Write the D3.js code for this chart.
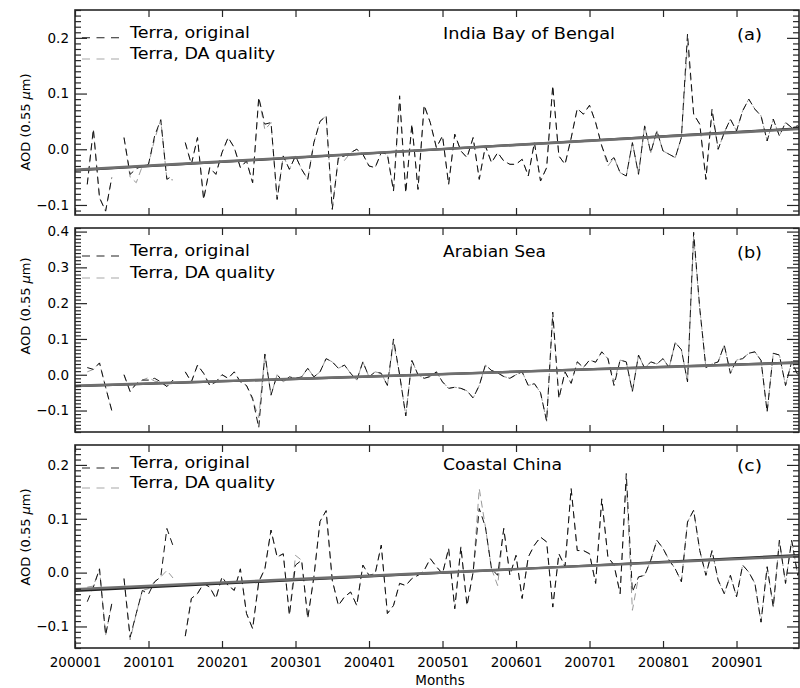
<!DOCTYPE html>
<html>
<head>
<meta charset="utf-8">
<script src="https://cdn.jsdelivr.net/npm/d3@7"></script>
<style>
  body { margin: 0; background: #fff; }
  svg { display: block; }
  text { font-family: "DejaVu Sans", "Liberation Sans", sans-serif; fill: #000; }
</style>
</head>
<body>
<svg id="chart" width="800" height="688"></svg>
<script>
// ---- Monthly AOD anomalies (0.55 um), Terra MODIS, Jan 2000 - Dec 2009 ----
const monthCount = 120;
const yearTickMonths = [0, 12, 24, 36, 48, 60, 72, 84, 96, 108];
const yearTickLabels = ["200001", "200101", "200201", "200301", "200401",
                        "200501", "200601", "200701", "200801", "200901"];
const panelTitles = ["India Bay of Bengal", "Arabian Sea", "Coastal China"];
const panelLetters = ["(a)", "(b)", "(c)"];
const legendLabels = ["Terra, original", "Terra, DA quality"];

// (a) India Bay of Bengal
const bengalOriginal = [
  null, null, -0.063, 0.036, -0.087, -0.111, -0.051, null, 0.021, -0.045,
  -0.035, -0.030, -0.027, 0.024, 0.053, -0.054, -0.047, null, 0.012, -0.027,
  0.021, -0.090, -0.033, -0.045, -0.006, 0.021, 0.003, -0.033, -0.021, -0.060,
  0.093, 0.045, 0.048, -0.090, -0.012, -0.036, -0.012, -0.036, -0.054, 0.012,
  0.050, 0.060, -0.108, -0.015, -0.012, -0.006, 0.000, -0.009, -0.030, -0.033,
  -0.006, -0.009, -0.075, 0.096, -0.078, 0.045, -0.072, 0.079, 0.048, 0.003,
  0.024, -0.063, 0.027, -0.003, -0.015, 0.021, -0.054, 0.006, -0.024, -0.006,
  -0.021, -0.027, -0.027, -0.018, -0.048, 0.012, -0.057, -0.033, 0.114, -0.012,
  -0.027, 0.020, 0.073, 0.063, 0.079, 0.048, 0.006, -0.024, -0.015, -0.042,
  -0.048, 0.012, -0.045, 0.042, -0.006, 0.033, -0.003, -0.009, -0.015, 0.021,
  0.207, 0.063, 0.045, -0.054, 0.072, 0.000, 0.030, 0.054, 0.033, 0.069,
  0.090, 0.072, 0.060, 0.015, 0.054, 0.024, 0.048, 0.039, 0.042, 0.030
];
const bengalDA = [
  null, null, -0.063, 0.036, -0.087, -0.111, -0.051, null, 0.021, -0.050,
  -0.060, -0.030, -0.027, 0.018, 0.053, -0.054, -0.055, null, 0.012, -0.027,
  0.021, -0.090, -0.033, -0.045, -0.006, 0.021, 0.003, -0.033, -0.021, -0.060,
  0.093, 0.035, 0.048, -0.090, -0.012, -0.036, -0.012, -0.036, -0.054, 0.012,
  0.050, 0.060, -0.108, -0.015, -0.020, -0.006, 0.000, -0.009, -0.030, -0.033,
  -0.006, -0.009, -0.075, 0.085, -0.078, 0.045, -0.072, 0.079, 0.048, 0.003,
  0.024, -0.063, 0.027, -0.003, -0.015, 0.021, -0.054, 0.006, -0.024, -0.006,
  -0.021, -0.027, -0.027, -0.018, -0.048, 0.012, -0.057, -0.033, 0.114, -0.012,
  -0.027, 0.020, 0.073, 0.063, 0.079, 0.048, 0.006, -0.030, -0.015, -0.042,
  -0.048, 0.012, -0.045, 0.042, -0.006, 0.033, -0.003, -0.009, -0.015, 0.021,
  0.190, 0.063, 0.045, -0.054, 0.065, 0.000, 0.030, 0.054, 0.033, 0.069,
  0.090, 0.072, 0.060, 0.015, 0.054, 0.024, 0.048, 0.039, 0.042, 0.030
];
const bengalTrendOriginal = [-0.038, 0.038];   // values at month 0 and month 119
const bengalTrendDA = [-0.037, 0.037];

// (b) Arabian Sea
const arabianOriginal = [
  null, null, 0.020, 0.015, 0.033, -0.035, -0.100, null, 0.000, -0.047,
  -0.025, -0.015, -0.015, -0.010, -0.020, -0.033, -0.015, null, 0.008, -0.020,
  0.027, 0.004, -0.030, -0.020, 0.000, -0.010, 0.008, -0.020, -0.030, -0.066,
  -0.148, 0.058, -0.057, 0.000, -0.020, -0.006, -0.010, -0.006, 0.018, -0.006,
  0.008, 0.045, 0.036, 0.018, 0.027, 0.004, -0.015, 0.036, -0.006, 0.008,
  0.004, -0.030, 0.100, 0.000, -0.115, 0.040, 0.000, -0.010, -0.005, 0.008,
  -0.020, -0.038, -0.035, -0.038, -0.045, -0.065, -0.030, 0.027, 0.012, 0.005,
  -0.005, -0.010, 0.000, 0.008, -0.030, -0.025, -0.050, -0.130, 0.175, -0.066,
  0.008, -0.024, 0.036, 0.020, 0.041, 0.035, 0.064, 0.045, -0.030, 0.041,
  0.036, -0.047, 0.055, 0.018, 0.036, 0.030, 0.045, 0.020, 0.090, 0.070,
  -0.020, 0.398, 0.185, 0.020, 0.030, 0.036, 0.083, 0.004, 0.041, 0.045,
  0.060, 0.064, 0.040, -0.104, 0.060, 0.055, -0.030, 0.036, 0.000, 0.020
];
const arabianDA = [
  null, null, 0.008, 0.015, 0.033, -0.035, -0.100, null, 0.000, -0.047,
  -0.025, -0.015, -0.008, -0.018, -0.020, -0.033, -0.015, null, 0.008, -0.020,
  0.027, 0.004, -0.030, -0.020, 0.000, -0.010, 0.008, -0.020, -0.030, -0.070,
  -0.120, 0.058, -0.057, 0.000, -0.020, -0.006, -0.010, -0.006, 0.018, -0.006,
  0.008, 0.045, 0.036, 0.018, 0.027, 0.004, -0.015, 0.036, -0.006, 0.008,
  0.004, -0.030, 0.090, 0.000, -0.115, 0.040, 0.000, -0.010, -0.005, 0.008,
  -0.020, -0.038, -0.035, -0.038, -0.045, -0.065, -0.030, 0.027, 0.012, 0.005,
  -0.005, -0.010, 0.000, 0.008, -0.030, -0.025, -0.050, -0.130, 0.165, -0.066,
  0.008, -0.024, 0.036, 0.020, 0.041, 0.035, 0.064, 0.045, -0.020, 0.041,
  0.036, -0.047, 0.055, 0.018, 0.036, 0.030, 0.045, 0.020, 0.090, 0.070,
  -0.020, 0.385, 0.185, 0.020, 0.030, 0.036, 0.083, 0.004, 0.041, 0.045,
  0.060, 0.064, 0.040, -0.104, 0.060, 0.055, -0.030, 0.036, 0.000, 0.020
];
const arabianTrendOriginal = [-0.032, 0.035];
const arabianTrendDA = [-0.031, 0.034];

// (c) Coastal China
const chinaOriginal = [
  null, null, -0.054, -0.027, 0.007, -0.116, -0.058, null, -0.011, -0.120,
  -0.076, -0.033, -0.040, -0.017, -0.008, 0.082, 0.050, null, -0.118, -0.048,
  -0.039, -0.020, -0.027, -0.048, -0.008, -0.024, -0.033, 0.007, -0.076, -0.104,
  -0.017, 0.007, 0.079, 0.029, 0.035, -0.079, 0.014, 0.023, -0.085, -0.008,
  0.095, 0.115, -0.014, -0.061, -0.045, -0.036, -0.061, 0.014, -0.005, -0.002,
  0.051, -0.076, -0.061, -0.020, -0.024, -0.011, -0.005, 0.004, 0.026, 0.011,
  -0.002, 0.045, -0.067, 0.048, -0.061, 0.001, 0.119, 0.085, 0.007, -0.005,
  0.082, -0.005, 0.032, -0.048, 0.029, 0.051, 0.066, 0.057, -0.064, 0.035,
  0.011, 0.156, 0.041, 0.041, 0.035, -0.020, 0.137, 0.029, 0.014, -0.039,
  0.184, -0.036, -0.008, -0.005, 0.023, 0.060, 0.045, 0.023, 0.007, -0.017,
  0.094, 0.116, 0.041, -0.005, 0.041, -0.014, -0.039, -0.005, -0.045, 0.014,
  0.001, -0.020, -0.092, 0.011, -0.064, 0.060, -0.020, 0.060, -0.005, 0.020
];
const chinaDA = [
  null, null, -0.027, -0.025, 0.007, -0.116, -0.058, null, -0.011, -0.125,
  -0.076, -0.033, -0.030, -0.017, -0.008, 0.004, -0.010, null, -0.118, -0.048,
  -0.039, -0.020, -0.027, -0.048, -0.008, -0.024, -0.033, 0.007, -0.076, -0.104,
  -0.017, 0.007, 0.079, 0.029, 0.035, -0.079, 0.032, 0.023, -0.085, -0.008,
  0.095, 0.115, -0.014, -0.061, -0.045, -0.036, -0.061, 0.014, -0.005, -0.002,
  0.051, -0.076, -0.061, -0.020, -0.024, -0.011, -0.005, 0.004, 0.026, 0.011,
  -0.002, 0.045, -0.067, 0.048, -0.061, 0.001, 0.156, 0.085, 0.007, -0.024,
  0.082, -0.005, 0.032, -0.048, 0.029, 0.051, 0.066, 0.057, -0.064, 0.035,
  0.011, 0.156, 0.041, 0.041, 0.035, -0.020, 0.137, 0.029, 0.014, -0.039,
  0.170, -0.070, -0.008, -0.005, 0.023, 0.060, 0.045, 0.023, 0.007, -0.017,
  0.094, 0.116, 0.041, -0.005, 0.041, -0.014, -0.039, -0.005, -0.045, 0.014,
  0.001, -0.020, -0.092, 0.011, -0.064, 0.060, -0.020, 0.060, -0.005, 0.020
];
const chinaTrendOriginal = [-0.034, 0.033];
const chinaTrendDA = [-0.031, 0.031];

const yTicksBengal = [-0.1, 0.0, 0.1, 0.2];
const yTicksArabian = [-0.1, 0.0, 0.1, 0.2, 0.3, 0.4];
const yTicksChina = [-0.1, 0.0, 0.1, 0.2];

// ---- layout ----
const plotLeft = 75, plotRight = 799;
const visibleMonths = 118.2;          // the frame ends just before Dec 2009
const panels = [
  { top: 10,  bottom: 215, yMin: -0.118, yMax: 0.25,
    orig: bengalOriginal, da: bengalDA, trendO: bengalTrendOriginal, trendD: bengalTrendDA,
    ticks: yTicksBengal, titleY: 39, legendY: [37.7, 59], yTitleY: 122 },
  { top: 228, bottom: 432, yMin: -0.16, yMax: 0.41,
    orig: arabianOriginal, da: arabianDA, trendO: arabianTrendOriginal, trendD: arabianTrendDA,
    ticks: yTicksArabian, titleY: 257, legendY: [256, 278], yTitleY: 306 },
  { top: 445, bottom: 648, yMin: -0.14, yMax: 0.237,
    orig: chinaOriginal, da: chinaDA, trendO: chinaTrendOriginal, trendD: chinaTrendDA,
    ticks: yTicksChina, titleY: 470, legendY: [468, 488], yTitleY: 537 }
];

const svg = d3.select("#chart");
const x = d3.scaleLinear().domain([0, visibleMonths]).range([plotLeft, plotRight]);
const fmt = d3.format(".1f");
const frameColor = "#262626";

panels.forEach((p, k) => {
  const y = d3.scaleLinear().domain([p.yMin, p.yMax]).range([p.bottom, p.top]);
  const g = svg.append("g");

  const clipId = "clip" + k;
  g.append("clipPath").attr("id", clipId)
    .append("rect").attr("x", plotLeft).attr("y", p.top)
    .attr("width", plotRight - plotLeft).attr("height", p.bottom - p.top);

  const plot = g.append("g").attr("clip-path", `url(#${clipId})`);

  const line = d3.line()
    .defined(d => d != null)
    .x((d, i) => x(i))
    .y(d => y(d));

  // DA-quality series first, original on top with the same dash phase
  plot.append("path").datum(p.da)
    .attr("d", line).attr("fill", "none")
    .attr("stroke", "#9a9a9a").attr("stroke-width", 1)
    .attr("stroke-dasharray", "7,4.5").attr("stroke-dashoffset", 1);
  plot.append("path").datum(p.orig)
    .attr("d", line).attr("fill", "none")
    .attr("stroke", "#111").attr("stroke-width", 1)
    .attr("stroke-dasharray", "7,4.5");

  // linear trends
  const trendLine = d3.line().x(d => x(d[0])).y(d => y(d[1]));
  plot.append("path").datum([[0, p.trendO[0]], [monthCount - 1, p.trendO[1]]])
    .attr("d", trendLine).attr("fill", "none")
    .attr("stroke", "#222").attr("stroke-width", 2.2);
  plot.append("path").datum([[0, p.trendD[0]], [monthCount - 1, p.trendD[1]]])
    .attr("d", trendLine).attr("fill", "none")
    .attr("stroke", "#6f6f6f").attr("stroke-width", 2.6);

  // y axes: labelled left with inward ticks, plain right
  const minor = d3.range(Math.ceil(p.yMin * 100), Math.floor(p.yMax * 100) + 1)
    .map(v => v / 100)
    .filter(v => !p.ticks.some(t => Math.abs(t - v) < 1e-6));

  const leftMajor = g.append("g").attr("transform", `translate(${plotLeft},0)`)
    .call(d3.axisLeft(y).tickValues(p.ticks).tickSizeInner(-12).tickSizeOuter(0)
      .tickPadding(6).tickFormat(fmt));
  const leftMinor = g.append("g").attr("transform", `translate(${plotLeft},0)`)
    .call(d3.axisLeft(y).tickValues(minor).tickSizeInner(-6).tickSizeOuter(0).tickFormat(""));
  const rightMajor = g.append("g").attr("transform", `translate(${plotRight},0)`)
    .call(d3.axisRight(y).tickValues(p.ticks).tickSizeInner(-12).tickSizeOuter(0).tickFormat(""));
  const rightMinor = g.append("g").attr("transform", `translate(${plotRight},0)`)
    .call(d3.axisRight(y).tickValues(minor).tickSizeInner(-6).tickSizeOuter(0).tickFormat(""));

  // x axes: bottom (labels only on the last panel) and top
  const bottomAxis = g.append("g").attr("transform", `translate(0,${p.bottom})`)
    .call(d3.axisBottom(x).tickValues(yearTickMonths).tickSizeInner(-7).tickSizeOuter(0)
      .tickPadding(9.5)
      .tickFormat((d, i) => k === panels.length - 1 ? yearTickLabels[i] : ""));
  const topAxis = g.append("g").attr("transform", `translate(0,${p.top})`)
    .call(d3.axisTop(x).tickValues(yearTickMonths).tickSizeInner(-7).tickSizeOuter(0).tickFormat(""));

  [leftMajor, leftMinor, rightMajor, rightMinor, bottomAxis, topAxis].forEach(a => {
    a.select(".domain").remove();
    a.selectAll(".tick line").attr("stroke", frameColor).attr("stroke-width", 1.2);
    a.selectAll(".tick text").attr("font-size", 13.5)
      .attr("font-family", "'DejaVu Sans', sans-serif").attr("fill", "#000");
  });

  // frame
  g.append("rect")
    .attr("x", plotLeft).attr("y", p.top)
    .attr("width", plotRight - plotLeft).attr("height", p.bottom - p.top)
    .attr("fill", "none").attr("stroke", frameColor).attr("stroke-width", 1.6);

  // legend
  const legendColors = ["#222", "#a8a8a8"];
  legendLabels.forEach((lab, j) => {
    g.append("line")
      .attr("x1", 82).attr("x2", 125)
      .attr("y1", p.legendY[j]).attr("y2", p.legendY[j])
      .attr("stroke", legendColors[j]).attr("stroke-width", 1.1)
      .attr("stroke-dasharray", "8,6.5");
    g.append("text")
      .attr("x", 130).attr("y", p.legendY[j])
      .attr("font-size", 15)
      .attr("textLength", j === 0 ? 120 : 145).attr("lengthAdjust", "spacingAndGlyphs")
      .text(lab);
  });

  // region title and panel letter
  const titleWidths = [172, 103, 119];
  g.append("text")
    .attr("x", 443).attr("y", p.titleY)
    .attr("font-size", 15.5)
    .attr("textLength", titleWidths[k]).attr("lengthAdjust", "spacingAndGlyphs")
    .text(panelTitles[k]);
  g.append("text")
    .attr("x", 737).attr("y", p.titleY + 1)
    .attr("font-size", 15.5)
    .attr("textLength", 25).attr("lengthAdjust", "spacingAndGlyphs")
    .text(panelLetters[k]);

  // y-axis title
  const yt = g.append("text")
    .attr("transform", `translate(25,${p.yTitleY}) rotate(-90)`)
    .attr("text-anchor", "middle")
    .attr("dy", "0.35em")
    .attr("font-size", 13);
  yt.append("tspan").text("AOD (0.55 ");
  yt.append("tspan").attr("font-style", "italic").text("\u03bc");
  yt.append("tspan").text("m)");
});

svg.append("text")
  .attr("x", 440).attr("y", 685)
  .attr("text-anchor", "middle")
  .attr("font-size", 13.5)
  .text("Months");
</script>
</body>
</html>
